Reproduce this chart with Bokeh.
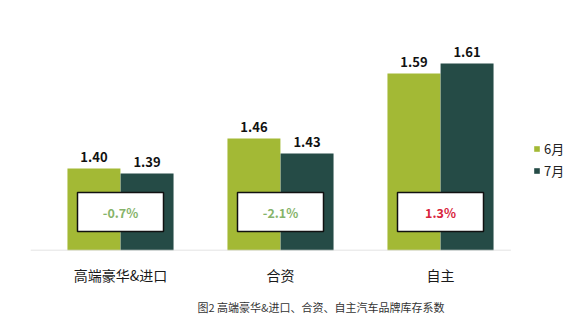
from bokeh.plotting import figure
from bokeh.models import Range1d, ColumnDataSource, Legend, LegendItem, Title, FixedTicker
from bokeh.core.properties import value
from bokeh.embed import file_html
from bokeh.resources import INLINE

# ---- data ----
categories = ["高端豪华&进口", "合资", "自主"]
series_names = ["6月", "7月"]
june = [1.40, 1.46, 1.59]
july = [1.39, 1.43, 1.61]
changes = ["-0.7%", "-2.1%", "1.3%"]
caption = "图2 高端豪华&进口、合资、自主汽车品牌库存系数"

# ---- styles ----
GREEN = "#a3b935"
DARK = "#254b46"
FONT = "Noto Sans CJK SC"
POS_COL = "#d8243c"
NEG_COL = "#86b46a"

xs = list(range(len(categories)))
dodge = 0.166
bw = 0.331

src = ColumnDataSource(dict(
    x=xs,
    x6=[x - dodge for x in xs],
    x7=[x + dodge for x in xs],
    june=june,
    july=july,
    jl=[f"{v:.2f}" for v in june],
    ul=[f"{v:.2f}" for v in july],
    chg=changes,
    chg_col=[NEG_COL if c.startswith("-") else POS_COL for c in changes],
    box_y=[1.313] * len(categories),
))

p = figure(width=584, height=333, output_backend="svg", toolbar_location=None,
           x_range=Range1d(-0.5625, -0.5625 + 554 / 160),
           y_range=Range1d(1.236, 1.736),
           y_axis_location=None,
           min_border_left=30, min_border_right=0, min_border_top=0, min_border_bottom=83)
p.outline_line_color = None
p.grid.visible = False
p.background_fill_color = "white"
p.border_fill_color = "white"

r6 = p.vbar(x="x6", top="june", bottom=1.236, width=bw, source=src,
            fill_color=GREEN, line_color=None)
r7 = p.vbar(x="x7", top="july", bottom=1.236, width=bw, source=src,
            fill_color=DARK, line_color=None)

# baseline
p.segment(x0=-0.5625, x1=2.44, y0=1.236, y1=1.236, line_color="#d9d9d9", line_width=1.5)

# value labels
p.text(x="x6", y="june", text="jl", source=src, text_align="center", text_baseline="bottom",
       y_offset=-7, text_font=value(FONT), text_font_size="13px", text_font_style="bold",
       text_color="#111111")
p.text(x="x7", y="july", text="ul", source=src, text_align="center", text_baseline="bottom",
       y_offset=-7, text_font=value(FONT), text_font_size="13px", text_font_style="bold",
       text_color="#111111")

# change boxes
p.rect(x="x", y="box_y", width=86, height=39, width_units="screen", height_units="screen",
       source=src, fill_color="white", line_color="#111111", line_width=1.5)
p.text(x="x", y="box_y", text="chg", source=src, text_align="center", text_baseline="middle",
       text_font=value(FONT), text_font_size="12.5px", text_font_style="bold",
       text_color="chg_col")

# x axis
ax = p.xaxis[0]
ax.ticker = FixedTicker(ticks=xs)
ax.major_label_overrides = {i: c for i, c in enumerate(categories)}
ax.axis_line_color = None
ax.major_tick_line_color = None
ax.minor_tick_line_color = None
ax.major_label_standoff = 8
ax.major_label_text_font = FONT
ax.major_label_text_font_size = "14px"
ax.major_label_text_color = "#1a1a1a"

# legend
legend = Legend(items=[LegendItem(label=series_names[0], renderers=[r6]),
                       LegendItem(label=series_names[1], renderers=[r7])],
                location=(503, 70), orientation="vertical",
                glyph_width=7, glyph_height=7, label_standoff=4, spacing=3,
                padding=0, margin=0, border_line_color=None, background_fill_alpha=0,
                label_text_font=FONT, label_text_font_size="13px", label_text_color="#222222",
                label_height=15)
p.add_layout(legend)

# caption
t = Title(text=caption, align="left", offset=167, text_font=FONT, text_font_size="11px",
          text_font_style="normal", text_color="#333333", standoff=18)
p.add_layout(t, "below")

open("out.html", "w").write(file_html(p, INLINE))
